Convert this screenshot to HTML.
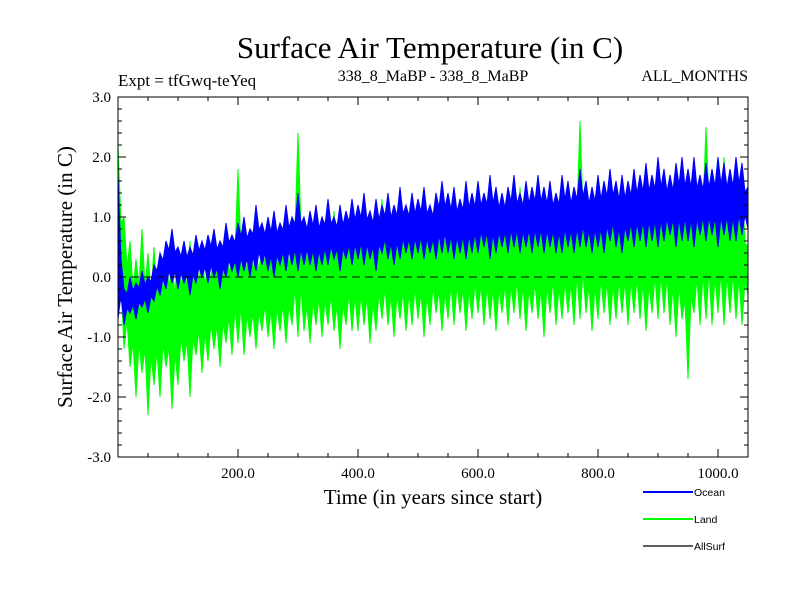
<!DOCTYPE html>
<html><head><meta charset="utf-8"><style>
body{margin:0;background:#fff}
svg text{font-family:"Liberation Serif",serif}
</style></head><body>
<svg id="c" width="800" height="600" xmlns="http://www.w3.org/2000/svg">
<text x="430" y="58" font-size="31" text-anchor="middle">Surface Air Temperature (in C)</text>
<text x="118" y="86" font-size="17">Expt = tfGwq-teYeq</text>
<text x="433" y="81" font-size="16" text-anchor="middle">338_8_MaBP - 338_8_MaBP</text>
<text x="748" y="81" font-size="16" text-anchor="end">ALL_MONTHS</text>
<text transform="translate(72,277) rotate(-90)" font-size="21" text-anchor="middle">Surface Air Temperature (in C)</text>
<text x="433" y="504" font-size="21" text-anchor="middle">Time (in years since start)</text>
<g id="plot"></g>
<g id="axes"></g>
<g id="legend"></g>
</svg>
<script>
const years=[];for(let y=0;y<=1050;y+=10)years.push(y);
const oceanHi=[1.7,-0.2,0.0,-0.1,0.1, 0.0,0.2,0.4,0.6,0.8, 0.5,0.6,0.5,0.7,0.6, 0.7,0.8,0.6,0.9,0.7, 0.9,1.0,0.8,1.2,0.9, 1.0,1.1,0.9,1.2,1.0, 1.4,1.0,1.1,1.2,1.0, 1.3,1.0,1.2,1.1,1.3, 1.2,1.4,1.1,1.3,1.2, 1.4,1.2,1.5,1.2,1.4, 1.3,1.5,1.2,1.4,1.6, 1.4,1.5,1.3,1.6,1.4, 1.6,1.4,1.7,1.5,1.4, 1.5,1.7,1.4,1.6,1.5, 1.7,1.5,1.6,1.4,1.7, 1.6,1.5,1.8,1.6,1.5, 1.7,1.6,1.8,1.6,1.7, 1.6,1.8,1.7,1.9,1.7, 2.0,1.8,1.7,1.9,2.0, 1.8,2.0,1.7,1.9,1.8, 2.0,1.9,1.8,2.0,1.9, 1.5];
const oceanLo=[-0.7,-0.8,-0.6,-0.7,-0.5, -0.6,-0.4,-0.3,-0.2,-0.1, -0.2,-0.1,-0.3,-0.1,0.0, -0.1,0.0,-0.2,0.0,0.1, 0.0,0.1,0.0,0.1,0.2, 0.1,0.0,0.2,0.1,0.2, 0.1,0.2,0.2,0.1,0.2, 0.2,0.3,0.1,0.3,0.2, 0.3,0.2,0.3,0.1,0.4, 0.3,0.2,0.3,0.4,0.3, 0.4,0.3,0.4,0.3,0.4, 0.4,0.3,0.4,0.3,0.4, 0.4,0.5,0.3,0.4,0.5, 0.4,0.5,0.4,0.5,0.4, 0.5,0.4,0.5,0.4,0.4, 0.5,0.4,0.5,0.5,0.4, 0.5,0.4,0.6,0.5,0.4, 0.6,0.5,0.6,0.5,0.6, 0.5,0.6,0.7,0.5,0.6, 0.6,0.5,0.7,0.6,0.7, 0.5,0.7,0.6,0.6,0.7, 0.8];
const landHi=[2.2,1.0,0.6,0.3,0.8, 0.4,0.5,0.2,0.6,0.3, 0.5,0.3,0.6,0.4,0.5, 0.3,0.6,0.4,0.7,0.4, 1.8,0.5,0.7,0.5,0.6, 0.8,0.6,0.9,0.7,0.6, 2.4,0.8,0.7,1.0,0.8, 0.9,1.1,0.7,1.0,1.2, 0.9,1.2,1.0,0.8,1.3, 1.0,1.1,0.9,1.2,1.0, 1.3,1.0,1.2,1.1,0.9, 1.2,1.4,1.0,1.2,1.1, 1.3,1.1,1.4,1.0,1.2, 1.3,1.1,1.5,1.2,1.0, 1.4,1.2,1.6,1.3,1.1, 1.3,1.2,2.6,1.1,1.4, 1.3,1.5,1.2,1.4,1.3, 1.5,1.3,1.6,1.4,1.2, 1.9,1.5,1.7,1.4,1.6, 1.5,1.8,1.4,2.5,1.6, 1.7,2.0,1.5,1.8,1.6, 0.5];
const landLo=[-0.3,-1.2,-1.5,-2.0,-1.6, -2.3,-1.8,-2.0,-1.5,-2.2, -1.8,-1.4,-2.0,-1.3,-1.6, -1.4,-1.2,-1.5,-1.1,-1.3, -1.1,-1.3,-1.0,-1.2,-0.9, -1.0,-1.2,-0.9,-1.1,-0.8, -1.0,-0.9,-1.1,-0.8,-1.0, -0.8,-0.9,-1.2,-0.8,-0.9, -0.9,-0.8,-1.1,-0.9,-0.7, -0.8,-1.0,-0.7,-0.9,-0.8, -0.7,-1.0,-0.8,-0.6,-0.9, -0.7,-0.8,-0.6,-0.9,-0.7, -0.6,-0.8,-0.7,-0.9,-0.6, -0.8,-0.6,-0.7,-0.9,-0.6, -0.7,-1.0,-0.6,-0.8,-0.7, -0.6,-0.8,-0.7,-0.6,-0.9, -0.7,-0.6,-0.8,-0.7,-0.6, -0.8,-0.6,-0.7,-0.9,-0.6, -0.7,-0.6,-0.8,-1.0,-0.7, -1.7,-0.6,-0.8,-0.7,-0.8, -0.6,-0.8,-0.6,-0.7,-0.8, -0.3];
const xTicks=[200,400,600,800,1000];
const xTickLabels=["200.0","400.0","600.0","800.0","1000.0"];
const yTicks=[-3,-2,-1,0,1,2,3];
const yTickLabels=["-3.0","-2.0","-1.0","0.0","1.0","2.0","3.0"];
const legendNames=["Ocean","Land","AllSurf"];
const legendColors=["#0000ff","#00ff00","#000000"];

const X0=118,X1=748,Y0=97,Y1=457;
const xs=v=>X0+(v/1050)*(X1-X0);
const ys=v=>Y1-((v+3)/6)*(Y1-Y0);
const NS="http://www.w3.org/2000/svg";
function mk(t,a,p){const e=document.createElementNS(NS,t);for(const k in a)e.setAttribute(k,a[k]);p.appendChild(e);return e;}
const plot=document.getElementById('plot'),axes=document.getElementById('axes'),leg=document.getElementById('legend');
function band(hi,lo,col,name){
  const n=years.length,top=[],bot=[];
  for(let i=0;i<n;i++){
    top.push([xs(years[i]),ys(hi[i])]);
    bot.push([xs(years[i]),ys(lo[i])]);
    if(i<n-1){const xm=xs(years[i]+5),r=hi[i]-lo[i],r2=hi[i+1]-lo[i+1];
      top.push([xm,ys((hi[i]+hi[i+1])/2-0.3*(r+r2)/2)]);
      bot.push([xm,ys((lo[i]+lo[i+1])/2+0.3*(r+r2)/2)]);}
  }
  const pts=top.concat(bot.reverse()).map(p=>p[0].toFixed(1)+','+p[1].toFixed(1)).join(' ');
  const p=mk('polygon',{points:pts,fill:col,stroke:col,'stroke-width':1,'stroke-linejoin':'miter'},plot);
  
  
}
band(landHi,landLo,'#00ff00','land-series');
band(oceanHi,oceanLo,'#0000ff','ocean-series');
const z=mk('line',{x1:X0,x2:X1,y1:ys(0),y2:ys(0),stroke:'#000','stroke-dasharray':'8,5','stroke-width':1},plot);


const fr=mk('rect',{x:X0,y:Y0,width:X1-X0,height:Y1-Y0,fill:'none',stroke:'#000','stroke-width':1},axes);


for(let v=50;v<1050;v+=50){const maj=v%200===0;
  mk('line',{x1:xs(v),x2:xs(v),y1:Y1,y2:Y1-(maj?8:4),stroke:'#000'},axes);
  mk('line',{x1:xs(v),x2:xs(v),y1:Y0,y2:Y0+(maj?8:4),stroke:'#000'},axes);}
for(let k=-15;k<=15;k++){const v=k/5,maj=k%5===0;
  mk('line',{x1:X0,x2:X0+(maj?8:4),y1:ys(v),y2:ys(v),stroke:'#000'},axes);
  mk('line',{x1:X1,x2:X1-(maj?8:4),y1:ys(v),y2:ys(v),stroke:'#000'},axes);}
xTicks.forEach((v,i)=>{const t=mk('text',{x:xs(v),y:Y1+21,'font-size':15,'text-anchor':'middle'},axes);t.textContent=xTickLabels[i];
  
  });
yTicks.forEach((v,i)=>{const t=mk('text',{x:X0-7,y:ys(v)+5,'font-size':15,'text-anchor':'end'},axes);t.textContent=yTickLabels[i];
  
  });
legendNames.forEach((n,i)=>{const y=492+i*27;
  const g=mk('g',{},leg);
  
  
  mk('line',{x1:643,x2:693,y1:y,y2:y,stroke:legendColors[i],'stroke-width':i==2?1.3:2},g);
  const t=mk('text',{x:694,y:y+4,'font-size':10.5,style:'font-family:"Liberation Sans",sans-serif'},g);t.textContent=n;});
</script>
</body></html>
